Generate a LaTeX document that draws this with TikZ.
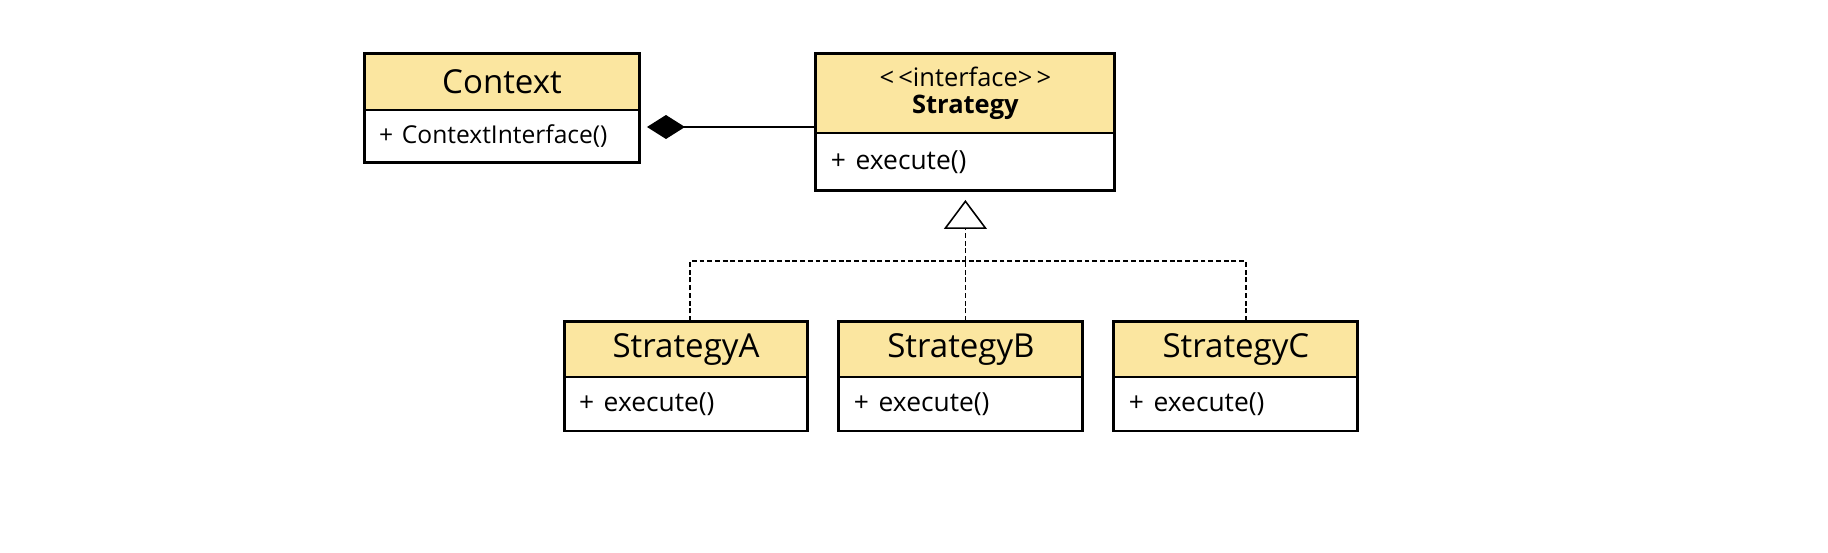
\documentclass[tikz,border=0pt]{standalone}
\usepackage{fontspec}
\setmainfont{Open Sans}
\usetikzlibrary{arrows.meta,positioning}
\definecolor{headfill}{RGB}{251,230,160}

\begin{document}
\begin{tikzpicture}[x=0.02cm, y=-0.02cm,
	classhead/.style={draw, line width=1.7pt, fill=headfill, outer sep=0pt, inner sep=0pt,
		align=center, font=\fontsize{18.8}{21}\selectfont},
	classbody/.style={draw, line width=1.7pt, fill=white, outer sep=0pt, inner xsep=0.3cm,
		inner ysep=0pt, align=left, font=\fontsize{15}{18}\selectfont},
	composition/.style={-{Diamond[length=0.76cm, width=0.48cm]}, line width=1.1pt, shorten >=0.14cm},
	dashedline/.style={line width=0.9pt, dash pattern=on 2.8pt off 1.6pt},
	realize/.style={dashedline, -{Triangle[open, fill=white, length=0.58cm, width=0.86cm]}, shorten >=0.18cm}]
	\useasboundingbox (0,0) rectangle (1828,552);

	% Nodes {ctx, strat, sa, sb, sc}
	\node [classhead, minimum width=5.52cm, minimum height=1.14cm] (ctx) at (502,81.5) {Context};
	\node [classbody, text width=4.92cm, minimum height=1.06cm, below=0pt of ctx,
		font=\fontsize{14}{17}\selectfont] (ctxbody)
		{\mbox{+\hspace{5pt}ContextInterface()}};

	\node [classhead, minimum width=5.98cm, minimum height=1.6cm,
		right=3.52cm of ctx.north east, anchor=north west, font=\fontsize{14.5}{17.5}\selectfont] (strat)
		{\raisebox{-2pt}{{<}\,{<}interface{>}\,{>}}\\ \textbf{Strategy}};
	\node [classbody, text width=5.38cm, minimum height=1.16cm, below=0pt of strat] (stratbody)
		{+\hspace{5.5pt}execute()};

	\node [classhead, minimum width=4.88cm, minimum height=1.12cm] (sa) at (686,349) {StrategyA};
	\node [classbody, text width=4.28cm, minimum height=1.08cm, below=0pt of sa] (sabody)
		{+\hspace{5.5pt}execute()};

	\node [classhead, minimum width=4.88cm, minimum height=1.12cm, right=0.62cm of sa] (sb) {StrategyB};
	\node [classbody, text width=4.28cm, minimum height=1.08cm, below=0pt of sb] (sbbody)
		{+\hspace{5.5pt}execute()};

	\node [classhead, minimum width=4.88cm, minimum height=1.12cm, right=0.62cm of sb] (sc) {StrategyC};
	\node [classbody, text width=4.28cm, minimum height=1.08cm, below=0pt of sc] (scbody)
		{+\hspace{5.5pt}execute()};

	% Paths
	\draw [composition] ([yshift=-0.68cm]strat.west) -- ([yshift=-0.68cm]strat.west -| ctxbody.east);

	\coordinate [below=1.4cm of stratbody.south] (join);
	\draw [dashedline] ([xshift=0.08cm]sa.north) |- (join);
	\draw [dashedline] ([xshift=0.2cm]sc.north) |- (join);
	\draw [dashedline] (join |- sb.north) -- (join);
	\draw [realize] (join) -- (stratbody.south);
\end{tikzpicture}
\end{document}
